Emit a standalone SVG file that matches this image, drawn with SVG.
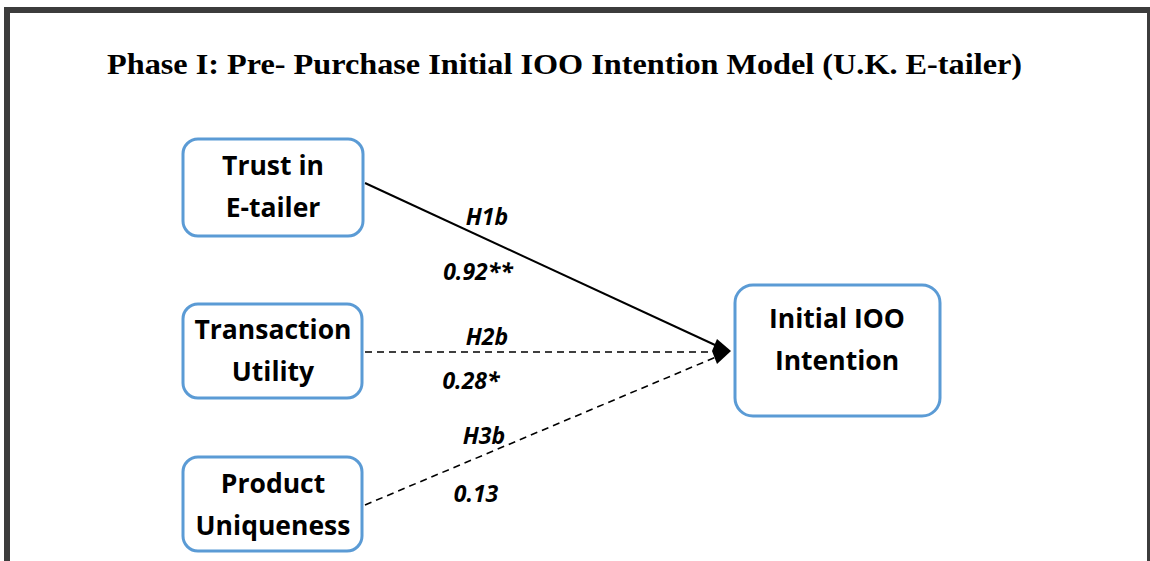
<svg xmlns="http://www.w3.org/2000/svg" width="1150" height="561" viewBox="0 0 1150 561">
  <style>
    .frame { fill: #3c3c3c; }
    .node rect { fill: #ffffff; stroke: #5b9bd5; stroke-width: 3; }
    .node text { font-family: "Open Sans", "Liberation Sans", sans-serif; font-weight: bold; font-size: 26.5px; fill: #000; text-anchor: middle; }
    .title { font-family: "Liberation Serif", serif; font-weight: bold; font-size: 30px; fill: #000; }
    .edge { stroke: #000; stroke-width: 2; fill: none; }
    .dash { stroke-dasharray: 7 5; stroke-width: 1.6; }
    .lbl { font-family: "Open Sans", "Liberation Sans", sans-serif; font-weight: bold; font-style: italic; font-size: 23px; fill: #000; text-anchor: middle; }
  </style>

  <rect width="1150" height="561" fill="#ffffff"/>
  <!-- outer frame -->
  <rect class="frame" x="4" y="7" width="1146" height="6"/>
  <rect class="frame" x="4" y="7" width="6" height="554"/>
  <rect class="frame" x="1147" y="7" width="3" height="554"/>

  <text class="title" x="107" y="74" textLength="915" lengthAdjust="spacingAndGlyphs">Phase I: Pre- Purchase Initial IOO Intention Model (U.K. E-tailer)</text>

  <g id="connectors">
    <line class="edge" x1="365" y1="183" x2="728" y2="351"/>
    <path d="M717,339 L731,351 L717,364 L712,351 Z" fill="#000"/>
    <line class="edge dash" x1="365" y1="352" x2="716" y2="352"/>
    <line class="edge dash" x1="365" y1="505" x2="716" y2="357"/>
    <text class="lbl" x="487" y="225">H1b</text>
    <text class="lbl" x="478" y="280">0.92**</text>
    <text class="lbl" x="487" y="345">H2b</text>
    <text class="lbl" x="471" y="389">0.28*</text>
    <text class="lbl" x="484" y="444">H3b</text>
    <text class="lbl" x="476" y="502">0.13</text>
  </g>

  <g id="trust" class="node">
    <rect x="183" y="139" width="180" height="97" rx="15"/>
    <text x="273" y="175">Trust in</text>
    <text x="273" y="217">E-tailer</text>
  </g>
  <g id="transaction" class="node">
    <rect x="183" y="304" width="179" height="94" rx="15"/>
    <text x="273" y="339">Transaction</text>
    <text x="273" y="381">Utility</text>
  </g>
  <g id="uniqueness" class="node">
    <rect x="183" y="457" width="179" height="94" rx="15"/>
    <text x="273" y="493">Product</text>
    <text x="273" y="535">Uniqueness</text>
  </g>
  <g id="intention" class="node">
    <rect x="735" y="285" width="205" height="131" rx="18"/>
    <text x="837" y="328">Initial IOO</text>
    <text x="837" y="370">Intention</text>
  </g>
</svg>
